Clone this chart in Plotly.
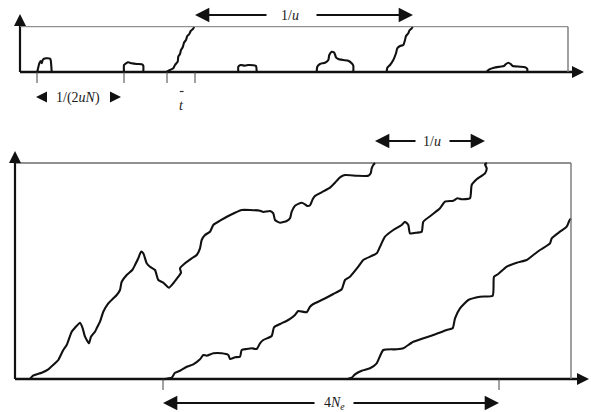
import plotly.graph_objects as go

# ---------------- data (in picture units) ----------------
# Top panel: short-lived bumps and two sweeps
bump1_x = [37.3, 39.3, 40.7, 41.7, 42.7, 44.0, 46.0, 50.0, 50.7, 51.7]
bump1_y = [71.7, 63.3, 61.0, 63.3, 60.0, 58.7, 58.3, 58.7, 60.0, 71.7]
bump2_x = [124.0, 124.0, 126.0, 128.3, 131.7, 136.7, 141.7, 143.3, 143.3]
bump2_y = [71.7, 65.0, 63.3, 62.3, 63.3, 64.0, 64.3, 65.7, 71.7]
sweep1_x = [166.7, 170.0, 173.3, 175.0, 177.7, 178.3, 180.0, 181.0, 182.7, 184.0, 186.0, 187.3, 189.3, 190.7, 192.7, 194.3]
sweep1_y = [71.7, 70.0, 68.3, 65.0, 61.7, 56.7, 54.0, 50.0, 47.3, 42.7, 40.0, 36.0, 34.0, 31.0, 29.3, 27.0]
bump3_x = [238.3, 238.3, 240.7, 245.0, 248.3, 253.3, 256.0, 256.7]
bump3_y = [71.7, 66.7, 65.0, 65.7, 65.0, 65.3, 66.0, 71.7]
bump4_x = [316.7, 317.3, 320.0, 325.0, 328.3, 329.3, 331.7, 334.3, 336.0, 338.3, 343.3, 348.3, 351.7, 353.3, 353.3]
bump4_y = [71.7, 66.7, 64.0, 62.7, 60.0, 55.0, 51.7, 52.7, 57.3, 59.0, 60.0, 60.7, 63.3, 65.7, 71.7]
sweep2_x = [386.7, 387.3, 390.0, 393.3, 396.0, 397.3, 400.0, 403.3, 405.0, 406.0, 408.3, 409.3, 411.7, 412.7]
sweep2_y = [71.7, 67.7, 65.0, 60.0, 53.3, 48.3, 46.0, 45.0, 40.0, 36.0, 33.3, 30.7, 28.3, 26.7]
bump5_x = [486.7, 489.3, 494.0, 500.0, 504.0, 506.0, 508.3, 510.7, 512.7, 520.0, 525.0, 527.3, 527.3]
bump5_y = [71.7, 69.3, 67.7, 66.7, 66.0, 64.0, 62.7, 64.0, 66.0, 66.7, 67.3, 69.0, 71.7]

# Bottom panel: three neutral trajectories
traj1_x = [30, 33, 41.7, 48.3, 55, 58.3, 63.3, 66.7, 71.7, 75, 80, 82.7, 85, 89, 91, 95, 96.7, 100,
           103.3, 108.3, 113.3, 116.7, 120, 121.7, 126.7, 132.3, 135, 138.3, 141, 143.3, 146.7, 150,
           155, 158.3, 163.3, 169, 173.3, 178.3, 181, 180, 185, 191.7, 196.7, 200, 201.7, 205, 210,
           213.3, 220, 228.3, 235, 241.7, 250, 260, 263.3, 270, 273.3, 275, 280, 286.7, 290, 291.7,
           295, 301.7, 305, 307.3, 310, 312.7, 315, 321.7, 330, 335, 340, 345, 356.7, 368.3, 370.7,
           371.7, 373.3, 375]
traj1_y = [379, 375.7, 372.7, 369.3, 363.3, 360, 350, 345, 331.7, 327.7, 322.7, 328.3, 336.7, 343.3,
           336.7, 331.7, 328.3, 321.7, 311.7, 303.3, 298.3, 295, 290, 281.7, 275, 270, 265, 258.3,
           251.7, 253.3, 263.3, 266.7, 270, 280, 282.7, 287.7, 283.3, 276.7, 272.7, 268.3, 263.3,
           258.3, 255, 248.3, 240, 235, 231.7, 225, 220.7, 216, 212.7, 210, 210, 210.7, 212, 211,
           213.3, 220, 222.7, 221, 218.3, 211.7, 205.7, 202.7, 204.3, 206, 205.3, 199.3, 196, 192.3,
           187.7, 182.7, 177.3, 175, 175.7, 175.7, 173.3, 168.3, 165, 163]
traj2_x = [163.3, 171.7, 175, 180, 186.7, 193.3, 200, 203.3, 206.7, 213.3, 221.7, 228.3, 230, 235,
           240, 241.7, 246.7, 251.7, 256.7, 260, 263.3, 271.7, 274, 280, 288.3, 295, 298.3, 306.7,
           310, 313.3, 323.3, 333.3, 341.7, 345, 350, 358.3, 363.3, 376.7, 380, 385, 393.3, 401.7,
           405, 408.3, 410, 416.7, 421.7, 423.3, 431.7, 440, 445, 453.3, 457.3, 461.7, 470, 471.7,
           476.7, 485, 486.7, 485, 487]
traj2_y = [379.3, 377.7, 372.7, 370.7, 366.7, 364.3, 359.3, 355, 355.7, 353.3, 353.3, 355, 359,
           357.3, 356.7, 350, 349, 348.3, 349, 343.3, 340, 336, 327.3, 324, 320, 315, 311, 312.3,
           306.7, 304, 299.3, 294, 289.3, 280, 276.7, 266.7, 260, 253.3, 246.7, 236.7, 230, 225,
           221.7, 225, 233.3, 232.7, 231.7, 221.7, 215, 208.3, 201.7, 200.7, 198.3, 199.3, 198.3,
           185, 179.3, 173.3, 168.3, 164.3, 163]
traj3_x = [346.7, 351.7, 355, 361.7, 370, 376.7, 383.3, 396.7, 403.3, 413.3, 433.3, 446.7, 452.7,
           455, 460, 468.3, 480, 492.7, 494, 498.3, 506.7, 516.7, 526.7, 533.3, 540, 550, 551.7,
           560, 566.7, 569.3, 571]
traj3_y = [379.3, 377.7, 374.3, 370.7, 368.3, 363.3, 350, 349.3, 348.3, 341.7, 335, 330, 328.3,
           318.3, 308.3, 300, 296.7, 295.7, 276.7, 274, 266.7, 262.7, 260, 255, 250, 243.3, 238.3,
           231.7, 226.7, 220.7, 218.5]

# Frames (axis origin, top line, right edge, arrow tips)
top_frame = dict(x0=20, y_base=72, y_top=26.7, x_right=568, x_tip=584, y_tip=14)
bot_frame = dict(x0=15, y_base=379, y_top=163, x_right=571, x_tip=589, y_tip=151)
top_ticks_x = [37, 124, 167, 195]
bottom_ticks_x = [163, 499]

# Labels
label_top_1u = "1/<i>u</i>"
label_2uN = "1/(2<i>uN</i>)"
label_tbar = "<i>t</i>"
label_bot_1u = "1/<i>u</i>"
label_4Ne = "4<i>N<sub>e</sub></i>"

# ---------------- figure ----------------
fig = go.Figure()
LINE = dict(color="#111111", width=2.1, shape="spline", smoothing=0.5)
for xs, ys in [(bump1_x, bump1_y), (bump2_x, bump2_y), (sweep1_x, sweep1_y), (bump3_x, bump3_y),
               (bump4_x, bump4_y), (sweep2_x, sweep2_y), (bump5_x, bump5_y),
               (traj1_x, traj1_y), (traj2_x, traj2_y), (traj3_x, traj3_y)]:
    fig.add_trace(go.Scatter(x=xs, y=ys, mode="lines", line=LINE, hoverinfo="skip", showlegend=False))

shapes = []
def seg(x0, y0, x1, y1, color="#111111", width=2):
    shapes.append(dict(type="line", xref="x", yref="y", x0=x0, y0=y0, x1=x1, y1=y1,
                       line=dict(color=color, width=width)))

for fr, topcol, topw in [(top_frame, "#777777", 1), (bot_frame, "#222222", 1.2)]:
    seg(fr["x0"], fr["y_base"], fr["x_tip"] - 6, fr["y_base"], width=2.4)
    seg(fr["x0"], fr["y_base"], fr["x0"], fr["y_tip"] + 6, width=2.2)
    seg(fr["x0"], fr["y_top"], fr["x_right"], fr["y_top"], color=topcol, width=topw)
    seg(fr["x_right"], fr["y_top"], fr["x_right"], fr["y_base"], color="#777777", width=1.4)

for tx in top_ticks_x:
    seg(tx, top_frame["y_base"], tx, top_frame["y_base"] + 11, color="#444444", width=1)
for tx in bottom_ticks_x:
    seg(tx, bot_frame["y_base"], tx, bot_frame["y_base"] + 11, color="#444444", width=1)
# bar over t
seg(179.8, 91.5, 183.6, 91.5, color="#333333", width=1.2)

anns = []
def arrow(xtip, ytip, xtail, ytail, size=1.0, width=2, head=2):
    anns.append(dict(x=xtip, y=ytip, ax=xtail, ay=ytail, xref="x", yref="y", axref="x", ayref="y",
                     text="", showarrow=True, arrowhead=head, arrowsize=size, arrowwidth=width,
                     arrowcolor="#111111", standoff=0, startstandoff=0))

def text(x, y, t, size=14):
    anns.append(dict(x=x, y=y, xref="x", yref="y", text=t, showarrow=False,
                     font=dict(family="Liberation Serif, Times New Roman, serif", size=size, color="#1a1a1a")))

# axis arrows
for fr in (top_frame, bot_frame):
    arrow(fr["x_tip"], fr["y_base"], fr["x_tip"] - 10, fr["y_base"], size=1.2, width=2)
    arrow(fr["x0"], fr["y_tip"], fr["x0"], fr["y_tip"] + 10, size=1.2, width=2)

# top 1/u arrow
arrow(195, 15, 268, 15, size=1.3, width=2.2)
arrow(413, 15, 315, 15, size=1.3, width=2.2)
text(290, 15, label_top_1u)
# 1/(2uN)
arrow(36, 97, 43, 97, size=1.1, width=2)
arrow(121, 97, 114, 97, size=1.1, width=2)
text(78, 98, label_2uN)
text(181.5, 105, label_tbar)
# bottom 1/u arrow
arrow(375, 141, 417, 141, size=1.3, width=2.2)
arrow(485, 141, 448, 141, size=1.3, width=2.2)
text(432, 141, label_bot_1u)
# 4Ne arrow
arrow(163, 403, 316, 403, size=1.3, width=2.2)
arrow(499, 403, 352, 403, size=1.3, width=2.2)
text(334, 403, label_4Ne)

fig.update_layout(
    width=591, height=412, margin=dict(l=0, r=0, t=0, b=0),
    paper_bgcolor="white", plot_bgcolor="white",
    xaxis=dict(range=[0, 591], visible=False, fixedrange=True),
    yaxis=dict(range=[412, 0], visible=False, fixedrange=True),
    shapes=shapes, annotations=anns, showlegend=False,
)
fig.write_html("out.html", config={"displayModeBar": False},
               post_script="document.body.style.margin='0px';document.body.style.overflow='hidden';")
